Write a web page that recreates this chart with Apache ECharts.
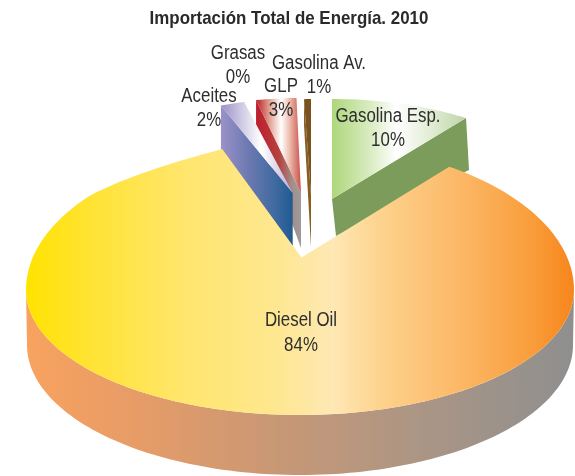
<!DOCTYPE html>
<html>
<head>
<meta charset="utf-8">
<style>html,body{margin:0;padding:0;background:#fff}#c{width:575px;height:476px}</style>
<script src="https://cdn.jsdelivr.net/npm/echarts@6/dist/echarts.min.js"></script>
</head>
<body>
<div id="c"></div>
<script>
// Data, clockwise from 12 o'clock
const categories = ['Gasolina Esp.', 'Diesel Oil', 'Aceites', 'Grasas', 'GLP', 'Gasolina Av.'];
const shares = [10, 84, 2, 0, 3, 1];
const chartTitle = 'Importación Total de Energía. 2010';

const FONT = '"Liberation Sans",Arial,sans-serif';
const NARROW = 0.865;
const hg = (x, x2, stops) => ({
  type: 'linear', global: true, x: x, y: 0, x2: x2, y2: 0,
  colorStops: stops.map(s => ({offset: s[0], color: s[1]}))
});

// Faked 3D projection of every slice (perspective, explode, depth, colours, label spot)
const looks = {
  'Gasolina Esp.': {
    z: 10, cx: 332, cy: 199, rx: 228, ryUp: 100, trim: [0, 0], cut: 'end',
    apexDepth: 37, rimDepth: 52, apexShift: 4, rimShift: 3, label: [388, 128.5],
    top: hg(332, 466, [[0, '#AED77A'], [0.3, '#DCEDC6'], [0.48, '#FFFFFF'], [0.75, '#E0EBD3'], [1, '#BFD5A8']]),
    side: '#7B9C5A'
  },
  'Diesel Oil': {
    z: 50, cx: 300, cy: 290, rx: 274, ryUp: 147, ryDown: 125, apex: [301.5, 257.5], trim: [-3, 5.1],
    softenFrom: 310, softenVia: [135, 172],
    label: [301, 333], wall: {dy: 55, rx: 273, ry: 130},
    top: hg(26, 574, [[0, '#FFE300'], [0.12, '#FFE335'], [0.3, '#FFE670'], [0.45, '#FEE78E'], [0.56, '#FEE8B4'],
      [0.65, '#FDD28C'], [0.8, '#FCB664'], [0.92, '#F99E3C'], [1, '#F7851C']]),
    side: hg(26, 574, [[0, '#F8A25F'], [0.2, '#E79C67'], [0.45, '#C99875'], [0.7, '#AD9684'], [1, '#8E8F8F']])
  },
  'Aceites': {
    z: 30, cx: 292.7, cy: 193, rx: 195, ryUp: 94, trim: [0, 0], cut: 'start',
    apexDepth: 55, rimDepth: 50, apexShift: 0, rimShift: 0, label: [209, 108.5],
    top: hg(221, 293, [[0, '#9A8FC5'], [0.25, '#C9C3E0'], [0.56, '#FFFFFF'], [0.8, '#D8D4EC'], [1, '#B2ABDA']]),
    side: hg(221, 293, [[0, '#9A92C8'], [0.4, '#6A78B0'], [0.75, '#3F6AA0'], [1, '#1F5A90']])
  },
  'Grasas': {
    z: 25, cx: 293, cy: 193, rx: 190, ryUp: 94, trim: [0, 0], cut: 'start',
    apexDepth: 0, rimDepth: 0, apexShift: 0, rimShift: 0, label: [238, 65.5],
    top: '#A0A0A0', side: '#A0A0A0'
  },
  'GLP': {
    z: 20, cx: 301, cy: 193, rx: 216, ryUp: 95, trim: [2.4, 2.4], cut: 'start',
    apexDepth: 55, rimDepth: 25, apexShift: 0, rimShift: 0, label: [281, 98.5],
    top: hg(257, 301, [[0, '#BE2732'], [0.25, '#DE9384'], [0.55, '#FFFFFF'], [0.75, '#EBB9A8'], [1, '#C9504E']]),
    side: hg(257, 301, [[0, '#BE1F2E'], [0.5, '#B4413F'], [0.8, '#A28F8A'], [1, '#9C9C9C']])
  },
  'Gasolina Av.': {
    z: 15, cx: 311, cy: 195, rx: 111, ryUp: 96, trim: [0, 0], cut: 'start',
    apexDepth: 52, rimDepth: 26, apexShift: 0, rimShift: 0, label: [319, 75.5],
    top: '#7A5220', side: '#8A5E22'
  }
};

const D2R = Math.PI / 180;
const rimAt = (g, deg) => {
  const a = deg * D2R, c = Math.cos(a);
  return [g.cx + g.rx * Math.sin(a), g.cy - (c > 0 ? g.ryUp : (g.ryDown || g.ryUp)) * c];
};
const arc = (g, from, to) => {
  const n = Math.max(2, Math.ceil(Math.abs(to - from) / 1.5)), out = [];
  for (let i = 0; i <= n; i++) out.push(rimAt(g, from + (to - from) * i / n));
  return out;
};
// the far-left rim of the reference flattens out towards the cut: ease into the end point
const softened = (g, from, to) => {
  const rim = arc(g, from, g.softenFrom), p0 = rim[rim.length - 1], p2 = rimAt(g, to), c = g.softenVia;
  for (let i = 1; i <= 24; i++) {
    const t = i / 24, u = 1 - t;
    rim.push([u * u * p0[0] + 2 * u * t * c[0] + t * t * p2[0], u * u * p0[1] + 2 * u * t * c[1] + t * t * p2[1]]);
  }
  return rim;
};

const total = shares.reduce((a, b) => a + b, 0);

function renderItem(params, api) {
  const idx = params.dataIndex;
  const value = api.value(0);
  let before = 0;
  for (let i = 0; i < idx; i++) before += shares[i];
  const g = looks[categories[idx]];
  const a0 = before / total * 360 + g.trim[0];
  const a1 = (before + value) / total * 360 + g.trim[1];
  const apex = g.apex || [g.cx, g.cy];
  const children = [];

  if (g.wall) {
    // outer wall of the big slice: lower half of rim, then lower rim back
    const upper = arc(g, 90, 270);
    const lower = arc({cx: g.cx, cy: g.cy + g.wall.dy, rx: g.wall.rx, ryUp: g.wall.ry, ryDown: g.wall.ry}, 270, 90);
    children.push({type: 'polygon', z2: g.z - 1, shape: {points: upper.concat(lower)}, style: {fill: g.side}});
  } else if (g.rimDepth || g.apexDepth) {
    // visible cut face of the exploded slice
    const r = rimAt(g, g.cut === 'end' ? a1 : a0);
    children.push({
      type: 'polygon', z2: g.z - 1,
      shape: {points: [r, apex, [apex[0] + g.apexShift, apex[1] + g.apexDepth], [r[0] + g.rimShift, r[1] + g.rimDepth]]},
      style: {fill: g.side}
    });
  }
  if (a1 > a0) {
    const rim = g.softenFrom ? softened(g, a0, a1) : arc(g, a0, a1);
    children.push({
      type: 'polygon', z2: g.z,
      shape: {points: [apex].concat(rim)},
      style: {fill: g.top}
    });
  }
  children.push({
    type: 'text', z2: 100, x: g.label[0], y: g.label[1], scaleX: NARROW,
    style: {
      x: 0, y: 0, text: categories[idx] + '\n' + value + '%',
      align: 'center', verticalAlign: 'middle',
      font: '19.5px ' + FONT, lineHeight: 24.5, fill: '#2e2e2e'
    }
  });
  return {type: 'group', children: children};
}

const chart = echarts.init(document.getElementById('c'), null, {renderer: 'canvas', width: 575, height: 476});
chart.setOption({
  animation: false,
  backgroundColor: '#ffffff',
  graphic: [{
    type: 'text', x: 289, y: 19, scaleX: 0.89, z: 100,
    style: {
      text: chartTitle, x: 0, y: 0, align: 'center', verticalAlign: 'middle',
      font: 'bold 19px ' + FONT, fill: '#2a2a2a'
    }
  }],
  series: [{
    type: 'custom',
    coordinateSystem: 'none',
    silent: true,
    renderItem: renderItem,
    encode: {value: 0},
    data: shares.map((v, i) => ({name: categories[i], value: [v]}))
  }]
});
</script>
</body>
</html>
